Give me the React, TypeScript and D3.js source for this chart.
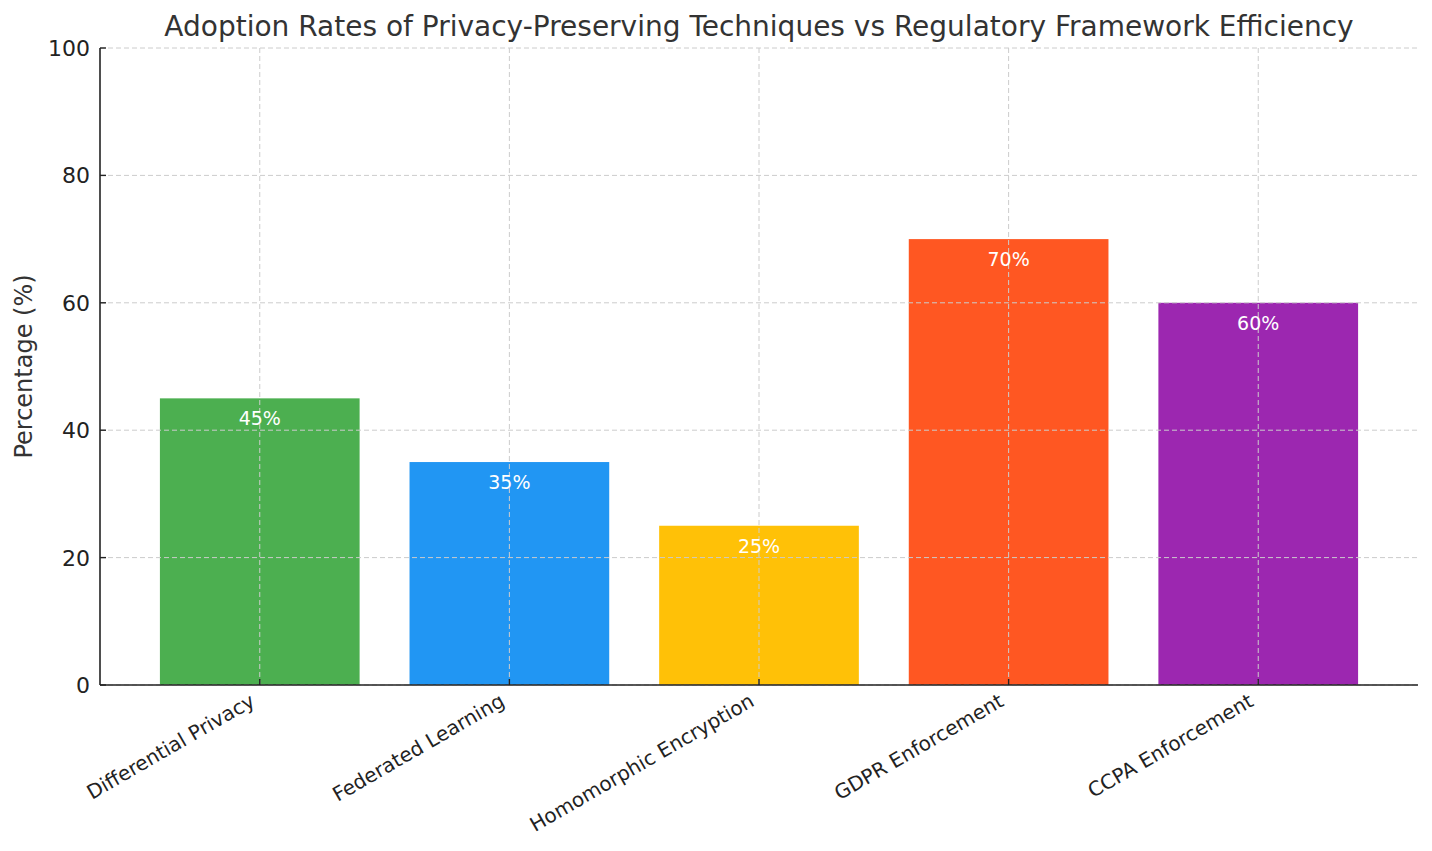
import React from "react";
import * as d3 from "d3";

const categories = [
  "Differential Privacy",
  "Federated Learning",
  "Homomorphic Encryption",
  "GDPR Enforcement",
  "CCPA Enforcement",
];
const values = [45, 35, 25, 70, 60];
const colors = ["#4CAF50", "#2196F3", "#FFC107", "#FF5722", "#9C27B0"];
const yTicks = [0, 20, 40, 60, 80, 100];

const title = "Adoption Rates of Privacy-Preserving Techniques vs Regulatory Framework Efficiency";
const yLabel = "Percentage (%)";

const App = () => {
  const width = 1432;
  const height = 851;
  const margin = { top: 48, right: 14, bottom: 166, left: 100 };
  const font = "'DejaVu Sans', sans-serif";

  // matplotlib-like x axis: bar centers at 0..n-1, limits with 5% margins
  const n = categories.length;
  const x = d3
    .scaleLinear()
    .domain([-0.4 - 0.24, n - 1 + 0.4 + 0.24])
    .range([margin.left, width - margin.right]);
  const y = d3.scaleLinear().domain([0, 100]).range([height - margin.bottom, margin.top]);
  const barW = x(0.8) - x(0);

  return (
    <svg
      width={width}
      height={height}
      style={{ position: "absolute", left: 0, top: 0, background: "#fff" }}
      fontFamily={font}
    >
      {/* bars */}
      {values.map((v, i) => (
        <rect
          key={i}
          x={x(i) - barW / 2}
          y={y(v)}
          width={barW}
          height={y(0) - y(v)}
          fill={colors[i]}
        />
      ))}

      {/* grid over bars */}
      <g stroke="#cccccc" strokeDasharray="5,3" strokeWidth={1}>
        {yTicks.map((t) => (
          <line key={t} x1={margin.left} x2={width - margin.right} y1={y(t)} y2={y(t)} />
        ))}
        {categories.map((c, i) => (
          <line key={c} x1={x(i)} x2={x(i)} y1={margin.top} y2={y(0)} />
        ))}
      </g>

      {/* value labels */}
      {values.map((v, i) => (
        <text
          key={i}
          x={x(i)}
          y={y(v) + 27}
          textAnchor="middle"
          fill="#fff"
          fontSize={19}
        >
          {v}%
        </text>
      ))}

      {/* axes */}
      <line x1={margin.left} x2={margin.left} y1={margin.top} y2={y(0)} stroke="#222" strokeWidth={1.6} />
      <line x1={margin.left} x2={width - margin.right} y1={y(0)} y2={y(0)} stroke="#222" strokeWidth={1.6} />

      {yTicks.map((t) => (
        <g key={t}>
          <line x1={margin.left} x2={margin.left + 6} y1={y(t)} y2={y(t)} stroke="#222" strokeWidth={1.4} />
          <text x={margin.left - 10} y={y(t)} dy="0.36em" textAnchor="end" fontSize={22} fill="#222">
            {t}
          </text>
        </g>
      ))}

      {categories.map((c, i) => (
        <g key={c}>
          <line x1={x(i)} x2={x(i)} y1={y(0)} y2={y(0) - 6} stroke="#222" strokeWidth={1.4} />
          <text
            transform={`translate(${x(i) - 11},${y(0) + 7}) rotate(-30)`}
            textAnchor="end"
            dy="0.75em"
            fontSize={20}
            fill="#222"
          >
            {c}
          </text>
        </g>
      ))}

      <text
        transform={`translate(32,${(margin.top + y(0)) / 2}) rotate(-90)`}
        textAnchor="middle"
        fontSize={24}
        fill="#333"
      >
        {yLabel}
      </text>

      <text x={(margin.left + width - margin.right) / 2} y={36} textAnchor="middle" fontSize={28} fill="#333">
        {title}
      </text>
    </svg>
  );
};

export default App;
